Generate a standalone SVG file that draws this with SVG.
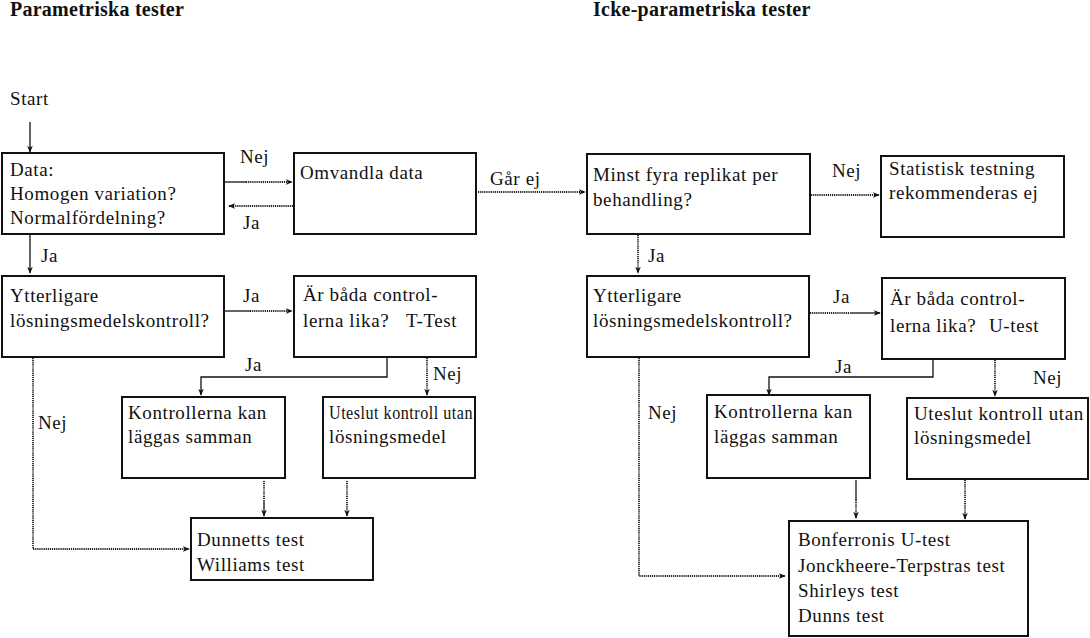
<svg xmlns="http://www.w3.org/2000/svg" width="1090" height="638" viewBox="0 0 1090 638">
<style>
text{font-family:"Liberation Serif","Times New Roman",serif;font-size:19px;letter-spacing:0.6px;fill:#111}
.h{font-weight:bold;font-size:20px;letter-spacing:0.25px}
.box{fill:#fff;stroke:#111;stroke-width:2}
.s{fill:none;stroke:#111;stroke-width:1.3}
.d{fill:none;stroke:#222;stroke-width:1.8;stroke-dasharray:1.2 0.9}
</style>
<defs>
<marker id="ah" viewBox="0 0 10 10" refX="9" refY="5" markerWidth="7" markerHeight="7" orient="auto" markerUnits="userSpaceOnUse">
<path d="M0,1 L10,5 L0,9 L3,5 Z" fill="#111"/>
</marker>
</defs>
<rect width="1090" height="638" fill="#fff"/>
<text class="h" x="10" y="16">Parametriska tester</text>
<text class="h" x="593" y="16">Icke-parametriska tester</text>
<text x="10" y="105">Start</text>

<g id="connectors">
<path class="s" d="M30,122 V152" marker-end="url(#ah)"/>
<path class="s" d="M225,182 H246"/>
<path class="d" d="M246,182 H292" marker-end="url(#ah)"/>
<path class="d" d="M293,206 H229" marker-end="url(#ah)"/>
<path class="d" d="M478,192 H585" marker-end="url(#ah)"/>
<path class="d" d="M811,195 H879" marker-end="url(#ah)"/>
<path class="s" d="M30,235 V273" marker-end="url(#ah)"/>
<path class="s" d="M225,311 H250"/>
<path class="d" d="M250,311 H292" marker-end="url(#ah)"/>
<path class="s" d="M387,358 V377 H201 V395" marker-end="url(#ah)"/>
<path class="d" d="M427,358 V395" marker-end="url(#ah)"/>
<path class="d" d="M33,358 V549 H189" marker-end="url(#ah)"/>
<path class="d" d="M264,481 V500"/>
<path class="s" d="M264,500 V516" marker-end="url(#ah)"/>
<path class="d" d="M347,481 V516" marker-end="url(#ah)"/>
<path class="d" d="M638,235 V273" marker-end="url(#ah)"/>
<path class="d" d="M810,313 H850"/>
<path class="s" d="M850,313 H880" marker-end="url(#ah)"/>
<path class="s" d="M933,360 V377 H769 V395" marker-end="url(#ah)"/>
<path class="d" d="M995,360 V396" marker-end="url(#ah)"/>
<path class="d" d="M639,358 V576 H785" marker-end="url(#ah)"/>
<path class="s" d="M856,480 V500"/>
<path class="d" d="M856,500 V518" marker-end="url(#ah)"/>
<path class="d" d="M965,480 V519" marker-end="url(#ah)"/>
</g>

<g id="labels">
<text x="240" y="163">Nej</text>
<text x="243" y="229">Ja</text>
<text x="490" y="185">Går ej</text>
<text x="832" y="177">Nej</text>
<text x="41" y="262">Ja</text>
<text x="243" y="302">Ja</text>
<text x="245" y="371">Ja</text>
<text x="433" y="380">Nej</text>
<text x="38" y="429">Nej</text>
<text x="648" y="262">Ja</text>
<text x="833" y="303">Ja</text>
<text x="835" y="373">Ja</text>
<text x="1033" y="384">Nej</text>
<text x="648" y="419">Nej</text>
</g>

<g id="n-data"><rect class="box" x="2" y="153" width="222" height="81"/>
<text x="10" y="176">Data:</text><text x="10" y="200">Homogen variation?</text><text x="10" y="224">Normalfördelning?</text></g>
<g id="n-omvandla"><rect class="box" x="294" y="153" width="182" height="81"/>
<text x="300" y="179">Omvandla data</text></g>
<g id="n-minst"><rect class="box" x="587" y="154" width="223" height="80"/>
<text x="593" y="181">Minst fyra replikat per</text><text x="593" y="206">behandling?</text></g>
<g id="n-statistisk"><rect class="box" x="881" y="156" width="183" height="81"/>
<text x="889" y="175">Statistisk testning</text><text x="889" y="199">rekommenderas ej</text></g>
<g id="n-ytter-l"><rect class="box" x="2" y="276" width="222" height="81"/>
<text x="10" y="302">Ytterligare</text><text x="10" y="327">lösningsmedelskontroll?</text></g>
<g id="n-lika-l"><rect class="box" x="294" y="276" width="182" height="81"/>
<text x="303" y="301">Är båda control-</text><text x="303" y="327">lerna lika?<tspan x="406">T-Test</tspan></text></g>
<g id="n-ytter-r"><rect class="box" x="587" y="276" width="222" height="81"/>
<text x="593" y="302">Ytterligare</text><text x="593" y="327">lösningsmedelskontroll?</text></g>
<g id="n-lika-r"><rect class="box" x="882" y="278" width="183" height="81"/>
<text x="890" y="305">Är båda control-</text><text x="890" y="332">lerna lika?<tspan x="989">U-test</tspan></text></g>
<g id="n-kontr-l"><rect class="box" x="122" y="397" width="163" height="81"/>
<text x="128" y="419">Kontrollerna kan</text><text x="128" y="443">läggas samman</text></g>
<g id="n-utes-l"><rect class="box" x="323" y="397" width="152" height="81"/>
<text x="329" y="419" textLength="144" lengthAdjust="spacingAndGlyphs">Uteslut kontroll utan</text><text x="329" y="443">lösningsmedel</text></g>
<g id="n-kontr-r"><rect class="box" x="707" y="395" width="163" height="83"/>
<text x="714" y="418">Kontrollerna kan</text><text x="714" y="443">läggas samman</text></g>
<g id="n-utes-r"><rect class="box" x="907" y="398" width="181" height="81"/>
<text x="914" y="420">Uteslut kontroll utan</text><text x="914" y="444">lösningsmedel</text></g>
<g id="n-dunnett"><rect class="box" x="191" y="518" width="182" height="62"/>
<text x="197" y="546">Dunnetts test</text><text x="197" y="571">Williams test</text></g>
<g id="n-bonf"><rect class="box" x="789" y="521" width="239" height="115"/>
<text x="798" y="546">Bonferronis U-test</text><text x="798" y="572">Jonckheere-Terpstras test</text><text x="798" y="597">Shirleys test</text><text x="798" y="622">Dunns test</text></g>
</svg>
